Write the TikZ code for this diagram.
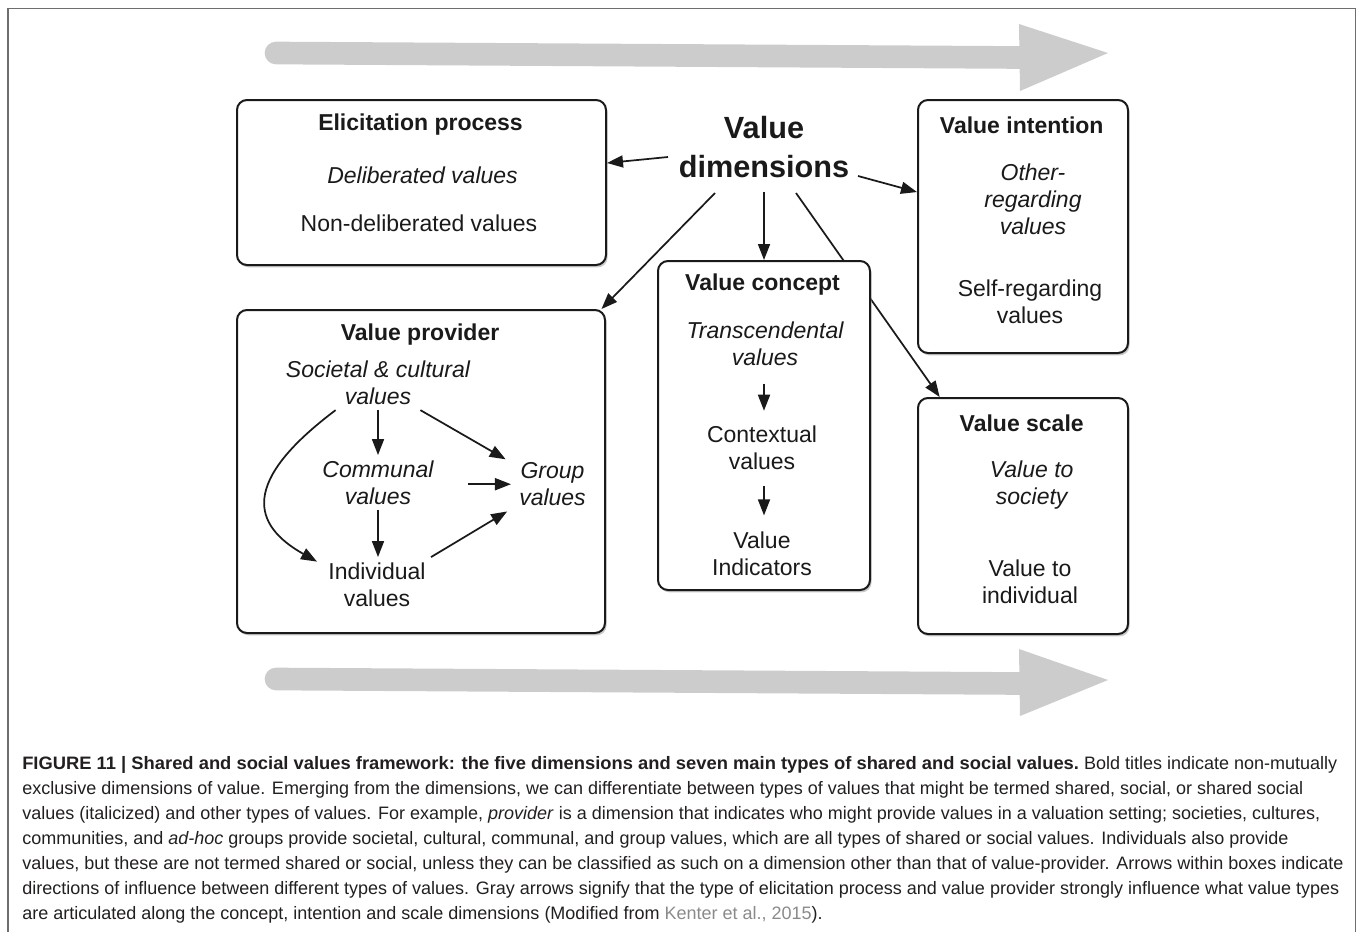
\documentclass[tikz,border=0pt]{standalone}
\usepackage{fontspec}
\setmainfont{Liberation Sans}
\usetikzlibrary{arrows.meta,shadows}
\definecolor{ink}{HTML}{1A1A1A}
\definecolor{capink}{HTML}{231F20}
\definecolor{flow}{HTML}{CCCCCC}
\definecolor{linkgray}{HTML}{8A8A8A}
\definecolor{framegray}{HTML}{6E6E6E}
\pgfdeclarelayer{behind}
\pgfsetlayers{behind,main}

\begin{document}
\begin{tikzpicture}[x=0.75pt,y=-0.75pt,
  box/.style={draw=ink, line width=1.5pt, rounded corners=7.5pt, fill=white, inner sep=0pt,
    drop shadow={shadow xshift=1.2pt, shadow yshift=-1.8pt, fill=black!35, opacity=0.6}},
  body/.style={font=\fontsize{17.25}{20.25}\selectfont, text=ink, align=center, inner sep=4pt},
  ital/.style={body, font=\fontsize{17.25}{20.25}\selectfont\itshape},
  ttl/.style={body, font=\fontsize{17.25}{20.25}\selectfont\bfseries},
  arr/.style={line width=1.3pt, draw=ink, -{Triangle[length=12pt,width=9pt]}},
  capline/.style={font=\fontsize{13.5}{18.75}\selectfont, text=capink, inner sep=0pt, anchor=base west}
]
\useasboundingbox (0,0) rectangle (1360,932);

% figure frame
\draw[framegray, line width=0.8pt] (8,932) -- (8,8.5) -- (1355.5,8.5) -- (1355.5,932);

% broad gray flow arrows
\draw[flow, line width=17pt, line cap=round] (276,53) -- (1021,57.5);
\fill[flow] (1019,24) -- (1108,53) -- (1020,91) -- cycle;
\draw[flow, line width=17pt, line cap=round] (276,679) -- (1021,683.5);
\fill[flow] (1019,649) -- (1108,680) -- (1020,716) -- cycle;

% dimension boxes
\node[box, minimum width=276.75pt, minimum height=123.75pt] (elic) at (421.5,182.5) {};
\node[box, minimum width=276pt, minimum height=242.25pt] (prov) at (421,471.5) {};
\node[box, minimum width=159pt, minimum height=246.75pt] (concept) at (764,425.5) {};
\node[box, minimum width=157.5pt, minimum height=189.75pt] (intent) at (1023,226.5) {};
\node[box, minimum width=157.5pt, minimum height=177pt] (scale) at (1023,516) {};

% central label
\node[font=\fontsize{23}{29.25}\selectfont\bfseries, text=ink, align=center] (vd) at (764,147.5) {Value\\dimensions};

% elicitation process
\node[ttl] (elicT) at (420.5,125) {Elicitation process};
\node[ital] (delib) at (422.5,175) {Deliberated values};
\node[body] (nondelib) at (419,223) {Non-deliberated values};

% value provider
\node[ttl] (provT) at (420,335) {Value provider};
\node[ital] (soc) at (378,382.6) {Societal \& cultural\\values};
\node[ital] (com) at (378,482.6) {Communal\\values};
\node[ital, inner xsep=10pt] (grp) at (552.5,484.2) {Group\\values};
\node[body] (ind) at (377,584.6) {Individual\\values};

% value concept
\node[ttl] (conceptT) at (762.5,285) {Value concept};
\node[ital] (trans) at (765,344.1) {Transcendental\\values};
\node[body] (ctx) at (762,447.6) {Contextual\\values};
\node[body] (vind) at (762,553.6) {Value\\Indicators};

% value intention
\node[ttl] (intentT) at (1021.7,125) {Value intention};
\node[ital] (other) at (1033,199.1) {Other-\\regarding\\values};
\node[body] (self) at (1030,301.6) {Self-regarding\\values};

% value scale
\node[ttl] (scaleT) at (1021.7,423) {Value scale};
\node[ital] (soc2) at (1031.7,485) {Value to\\society};
\node[body] (indiv2) at (1030,581.6) {Value to\\individual};

% connectors from the central label
\coordinate (vdL) at (668,157);
\coordinate (vdR) at (858,176);
\coordinate (vdC) at (764,192);
\coordinate (vdSW) at (715,193);
\coordinate (vdSE) at (796,193);
\draw[arr] (vdL) -- (elic.6.3);
\draw[arr] (vdR) -- (intent.162.3);
\draw[arr] (vdC) -- (concept.north);
\draw[arr] (vdSW) -- (prov.42.9);
\begin{pgfonlayer}{behind}
\draw[arr] (vdSE) -- (scale.125.8);
\end{pgfonlayer}

% influences among providers
\draw[arr] (soc.south) -- (com.north);
\draw[arr] (com.south) -- (com.south |- ind.north);
\draw[arr] (soc.-33) -- (grp.152);
\draw[arr, shorten <=21.5pt, shorten >=-4pt] (com.east |- grp.west) -- (grp.west);
\draw[arr] (ind.27) -- (grp.211);
\draw[arr, shorten >=5pt] (soc.-147) .. controls (240,482) and (252,525) .. (ind.160);

% concept chain
\draw[arr, shorten <=9pt, shorten >=7pt] (trans.south -| concept.center) -- (ctx.north -| concept.center);
\draw[arr, shorten <=8.5pt, shorten >=8pt] (ctx.south -| concept.center) -- (vind.north -| concept.center);

% caption
\node[capline] (cap1) at (22,769) {\scalebox{1.02}[1]{\textbf{FIGURE 11 | Shared and social values framework: the five dimensions and seven main types of shared and social values.}} Bold titles indicate non-mutually};
\node[capline] (cap2) at (22,794) {exclusive dimensions of value. Emerging from the dimensions, we can differentiate between types of values that might be termed shared, social, or shared social};
\node[capline] (cap3) at (22,819) {values (italicized) and other types of values. For example, \textit{provider} is a dimension that indicates who might provide values in a valuation setting; societies, cultures,};
\node[capline] (cap4) at (22,844) {communities, and \textit{ad-hoc} groups provide societal, cultural, communal, and group values, which are all types of shared or social values. Individuals also provide};
\node[capline] (cap5) at (22,869) {values, but these are not termed shared or social, unless they can be classified as such on a dimension other than that of value-provider. Arrows within boxes indicate};
\node[capline] (cap6) at (22,894) {directions of influence between different types of values. Gray arrows signify that the type of elicitation process and value provider strongly influence what value types};
\node[capline] (cap7) at (22,919) {are articulated along the concept, intention and scale dimensions (Modified from {\color{linkgray}Kenter et al., 2015}).};
\end{tikzpicture}
\end{document}
